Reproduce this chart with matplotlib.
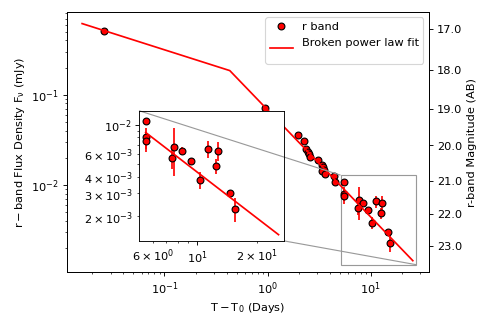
import numpy as np
import matplotlib
matplotlib.use('Agg')
import matplotlib.pyplot as plt
from matplotlib.ticker import FixedLocator, FormatStrFormatter, NullLocator
from mpl_toolkits.axes_grid1.inset_locator import mark_inset

# r band photometry (days since T0, flux in mJy)
t_days = [0.0261, 0.935, 1.955, 2.27, 2.36, 2.44, 2.54, 2.60, 3.06, 3.37, 3.45,
          3.56, 3.37, 3.63, 4.38, 4.54,
          5.51, 5.54, 5.53, 7.63, 7.49, 8.40, 9.36, 10.35, 11.36, 12.47, 12.77,
          14.68, 15.49]
flux = [0.514, 0.0711, 0.0355, 0.0308, 0.0251, 0.0234, 0.0219, 0.0206, 0.0190,
        0.0167, 0.0156, 0.0147, 0.0141, 0.0132, 0.0124, 0.0107,
        0.01073, 0.0080, 0.00746, 0.00671, 0.00557, 0.00634, 0.00525, 0.0038,
        0.00656, 0.00486, 0.00634, 0.00301, 0.00229]
flux_err = [0.02, 0.002, 0.001, 0.001, 0.0008, 0.0008, 0.0008, 0.0007, 0.0006,
            0.0005, 0.0005, 0.0005, 0.0005, 0.0005, 0.0004, 0.0004,
            0.00058, 0.00146, 0.00128, 0.00266, 0.00095, 0.00046, 0.00028,
            0.00057, 0.00099, 0.00064, 0.00108, 0.00016, 0.00049]

# broken power law fit (break near 0.43 d)
fit_t = [0.0159, 0.43, 25.6]
fit_f = [0.615, 0.185, 0.00144]
ins_fit_t = [5.51, 25.8]
ins_fit_f = [0.00873, 0.00145]

mag_ticks = [17.0, 18.0, 19.0, 20.0, 21.0, 22.0, 23.0]

fig = plt.figure(figsize=(6, 4), dpi=81.85)
ax = fig.add_axes([0.1358, 0.1682, 0.7379, 0.7951])

ax.errorbar(t_days, flux, yerr=flux_err, fmt='none', ecolor='red', elinewidth=1.5)
ax.plot(t_days, flux, 'o', color='red', mec='black', mew=1.0, ms=6, label='r band')
ax.plot(fit_t, fit_f, '-', color='red', lw=1.5, label='Broken power law fit\n')
ax.set_xscale('log')
ax.set_yscale('log')
ax.set_xlim(0.01127, 36.8)
ax.set_ylim(0.00108, 0.835)
ax.set_xlabel(r'$\mathrm{T-T_0\ (Days)}$')
ax.set_ylabel(r'$\mathrm{r-band\ Flux\ Density\ F_{\nu}\ (mJy)}$')
ax.legend(loc='upper right', numpoints=1)

ax2 = ax.twinx()
ax2.set_yscale('log')
ax2.set_ylim(23.85, 16.60)
ax2.yaxis.set_major_locator(FixedLocator(mag_ticks))
ax2.yaxis.set_major_formatter(FormatStrFormatter('%.1f'))
ax2.yaxis.set_minor_locator(NullLocator())
ax2.set_ylabel('r-band Magnitude (AB)')

axins = fig.add_axes([0.2831, 0.2630, 0.2953, 0.3976])
axins.errorbar(t_days, flux, yerr=flux_err, fmt='none', ecolor='red', elinewidth=1.5)
axins.plot(t_days, flux, 'o', color='red', mec='black', mew=1.0, ms=6)
axins.plot(ins_fit_t, ins_fit_f, '-', color='red', lw=1.5)
axins.set_xscale('log')
axins.set_yscale('log')
axins.set_xlim(5.1, 27.5)
axins.set_ylim(0.0013, 0.0128)
mark_inset(ax, axins, loc1=2, loc2=4, fc='none', ec='0.6', lw=1.0)

fig.savefig('out.png', dpi=81.85)
